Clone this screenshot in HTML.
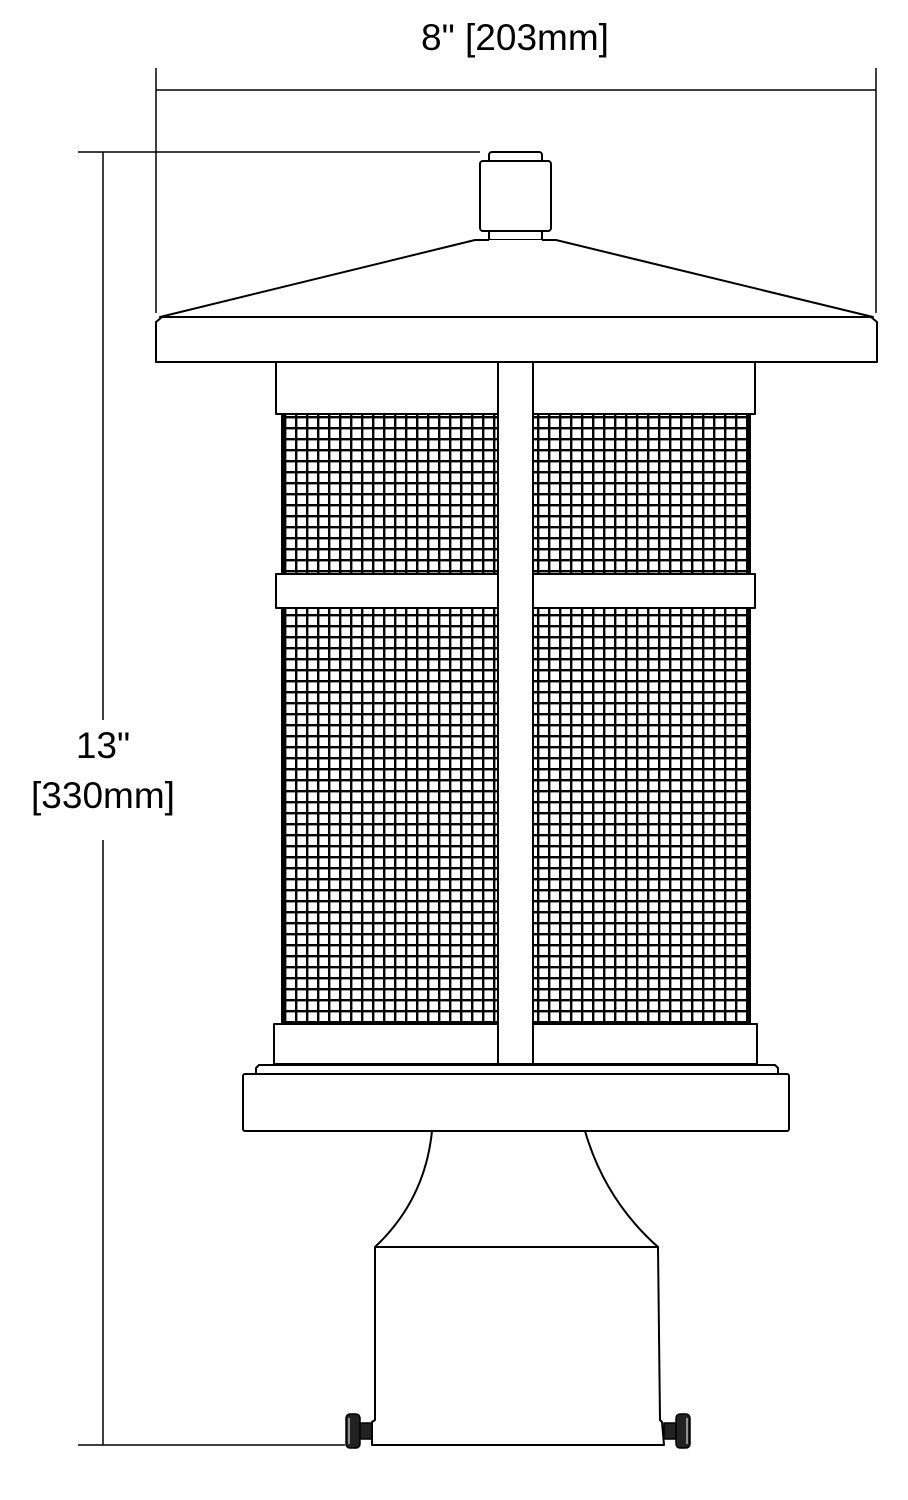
<!DOCTYPE html>
<html><head><meta charset="utf-8"><style>
html,body{margin:0;padding:0;background:#fff;}
svg{display:block}
text{font-family:"Liberation Sans",Arial,sans-serif;fill:#000}
</style></head><body>
<svg width="908" height="1500" viewBox="0 0 908 1500" xmlns="http://www.w3.org/2000/svg">
<defs>
<pattern id="mesh" x="284" y="416" width="11" height="11" patternUnits="userSpaceOnUse">
<rect width="11" height="11" fill="#fff"/>
<rect x="0" y="0" width="11" height="2.4" fill="#000"/>
<rect x="0" y="0" width="2.4" height="11" fill="#000"/>
</pattern>
</defs>
<g stroke="#000" fill="none" stroke-width="1.5">
<line x1="156" y1="68" x2="156" y2="313"/>
<line x1="876" y1="68" x2="876" y2="313"/>
<line x1="156" y1="90" x2="876" y2="90"/>
<line x1="78" y1="152" x2="480" y2="152"/>
<line x1="103" y1="152" x2="103" y2="1445"/>
<line x1="78" y1="1445" x2="345" y2="1445"/>
</g>
<rect x="25" y="720" width="156" height="120" fill="#fff"/>
<text x="515" y="50" font-size="37" text-anchor="middle">8" [203mm]</text>
<text x="103" y="758" font-size="37" text-anchor="middle">13"</text>
<text x="103" y="808" font-size="37" text-anchor="middle">[330mm]</text>

<rect x="282" y="414" width="216" height="612" fill="url(#mesh)"/>
<rect x="533" y="414" width="217" height="612" fill="url(#mesh)"/>
<rect x="281" y="414" width="3" height="612" fill="#000"/>
<rect x="748" y="414" width="3" height="612" fill="#000"/>

<g stroke="#000" fill="#fff" stroke-width="2" stroke-linejoin="round">
<rect x="489" y="152" width="53" height="14" rx="3"/>
<rect x="489" y="228" width="53" height="12" rx="2"/>
<rect x="480" y="161" width="71" height="70" rx="3"/>
<path d="M489 240 L475 240 L160 317 L873 317 L556 240 L542 240" fill="#fff"/>
<path d="M156 362 L156 322 L162 317 L871 317 L877 322 L877 362 Z"/>
<rect x="276" y="362" width="479" height="52"/>
<rect x="276" y="574" width="222" height="34"/>
<rect x="533" y="574" width="222" height="34"/>
<rect x="274" y="1024" width="483" height="40"/>
<rect x="498" y="362" width="35" height="702"/>
<path d="M256 1074 L256 1068 L259 1065 L775 1065 L778 1068 L778 1074 Z"/>
<rect x="243" y="1074" width="546" height="57" rx="2"/>
<path d="M432 1131 Q425 1200 375 1247 L658 1247 Q605 1200 585 1131 Z"/>
<path d="M375 1247 L375 1420 L372 1422 L372 1445 L664 1445 L662 1422 L660 1420 L658 1247 Z"/>
</g>
<g fill="#222" stroke="#000" stroke-width="1.5">
<rect x="359" y="1423" width="13" height="16"/>
<rect x="346" y="1414" width="14" height="34" rx="4"/>
<rect x="664" y="1423" width="13" height="16"/>
<rect x="676" y="1414" width="14" height="34" rx="4"/>
</g>
<g stroke="#fff" stroke-width="1"><line x1="349" y1="1418" x2="349" y2="1444"/><line x1="687" y1="1418" x2="687" y2="1444"/></g>
</svg>
</body></html>
